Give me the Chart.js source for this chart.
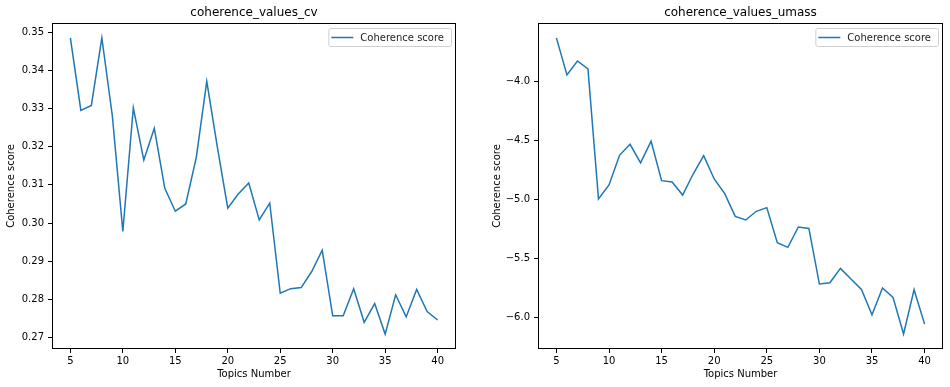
<!DOCTYPE html>
<html>
<head>
<meta charset="utf-8">
<script src="https://cdn.jsdelivr.net/npm/chart.js@4.4.1/dist/chart.umd.min.js"></script>
<style>
  html, body { margin: 0; padding: 0; background: #fff; }
  #wrap { position: relative; width: 950px; height: 387px; }
  .box { position: absolute; top: 0; width: 475px; height: 387px; }
</style>
</head>
<body>
<div id="wrap">
  <div class="box" style="left:0"><canvas id="c1" width="475" height="387"></canvas></div>
  <div class="box" style="left:475px"><canvas id="c2" width="475" height="387"></canvas></div>
</div>
<script>
const topics = [5,6,7,8,9,10,11,12,13,14,15,16,17,18,19,20,21,22,23,24,25,26,27,28,29,30,31,32,33,34,35,36,37,38,39,40];
const cvValues = [0.3485,0.3295,0.3308,0.3485,0.3281,0.2978,0.3302,0.3165,0.3248,0.3091,0.3031,0.3050,0.3172,0.3371,0.3200,0.3039,0.3076,0.3105,0.3008,0.3052,0.2816,0.2828,0.2831,0.2873,0.2929,0.2757,0.2757,0.2828,0.2740,0.2789,0.2709,0.2812,0.2754,0.2826,0.2768,0.2746];
const umassValues = [-3.629,-3.943,-3.825,-3.893,-4.996,-4.877,-4.625,-4.532,-4.690,-4.506,-4.840,-4.851,-4.962,-4.784,-4.628,-4.826,-4.950,-5.143,-5.174,-5.100,-5.069,-5.366,-5.406,-5.233,-5.245,-5.717,-5.706,-5.584,-5.675,-5.762,-5.977,-5.751,-5.830,-6.141,-5.765,-6.057];
const xTicks = [5,10,15,20,25,30,35,40];
const cvTicks = [0.27,0.28,0.29,0.30,0.31,0.32,0.33,0.34,0.35];
const cvTickLabels = ['0.27','0.28','0.29','0.30','0.31','0.32','0.33','0.34','0.35'];
const umassTicks = [-6.0,-5.5,-5.0,-4.5,-4.0];
const umassTickLabels = ['\u22126.0','\u22125.5','\u22125.0','\u22124.5','\u22124.0'];
const titles = ['coherence_values_cv','coherence_values_umass'];
const seriesName = 'Coherence score';
const xTitle = 'Topics Number';
const yTitle = 'Coherence score';

const FONT = 'DejaVu Sans';
const BLUE = '#1f77b4';

const framePlugin = {
  id: 'frame',
  afterDraw(chart) {
    const a = chart.chartArea, ctx = chart.ctx;
    ctx.save();
    ctx.strokeStyle = '#000';
    ctx.lineWidth = 1;
    ctx.strokeRect(Math.round(a.left) + 0.5, Math.round(a.top) + 0.5,
                   Math.round(a.right - a.left) - 1, Math.round(a.bottom - a.top) - 1);
    // legend inside top-right
    ctx.font = '10px "' + FONT + '"';
    const tw = ctx.measureText(seriesName).width;
    const w = 3 + 22 + 7 + tw + 7;
    const h = 18;
    const x = a.right - 5 - w, y = a.top + 5;
    ctx.fillStyle = 'rgba(255,255,255,0.8)';
    ctx.strokeStyle = '#d0d0d0';
    ctx.beginPath();
    if (ctx.roundRect) ctx.roundRect(x + 0.5, y + 0.5, w, h, 2); else ctx.rect(x + 0.5, y + 0.5, w, h);
    ctx.fill();
    ctx.stroke();
    ctx.strokeStyle = BLUE;
    ctx.lineWidth = 1.5;
    ctx.beginPath();
    ctx.moveTo(x + 3, y + h / 2 + 0.5);
    ctx.lineTo(x + 25, y + h / 2 + 0.5);
    ctx.stroke();
    ctx.fillStyle = '#222';
    ctx.textBaseline = 'middle';
    ctx.textAlign = 'left';
    ctx.fillText(seriesName, x + 32, y + h / 2 + 1);
    ctx.restore();
  }
};

function makeChart(id, title, values, yTickVals, yTickLabels, yMin, yMax, yWidth, yTitlePad, padRight) {
  const pts = topics.map((t, i) => ({ x: t, y: values[i] }));
  return new Chart(document.getElementById(id), {
    type: 'line',
    data: { datasets: [{ label: seriesName, data: pts, borderColor: BLUE, borderWidth: 1.5,
      pointRadius: 0, tension: 0, fill: false }] },
    options: {
      responsive: false,
      animation: false,
      layout: { padding: { left: 0, right: padRight, top: 0, bottom: 0 } },
      plugins: {
        legend: { display: false },
        tooltip: { enabled: false },
        title: { display: true, text: title, fullSize: false, color: '#000',
          font: { family: FONT, size: 12, weight: 'normal', lineHeight: 1.2 },
          padding: { top: 6, bottom: 2.6 } }
      },
      scales: {
        x: {
          type: 'linear', min: 3.25, max: 41.75,
          afterBuildTicks: s => { s.ticks = xTicks.map(v => ({ value: v })); },
          afterFit: s => { s.height = 38; },
          ticks: { color: '#000', font: { family: FONT, size: 10 }, padding: 2, maxRotation: 0,
            autoSkip: false, callback: v => String(v) },
          grid: { display: true, drawOnChartArea: false, drawTicks: true, tickLength: 4,
            tickColor: '#000', tickWidth: 1 },
          border: { display: false },
          title: { display: true, text: xTitle, color: '#000',
            font: { family: FONT, size: 10, lineHeight: 1.2 }, padding: { top: 0, bottom: 7 } }
        },
        y: {
          type: 'linear', min: yMin, max: yMax,
          afterBuildTicks: s => { s.ticks = yTickVals.map(v => ({ value: v })); },
          afterFit: s => { s.width = yWidth; },
          ticks: { color: '#000', font: { family: FONT, size: 10 }, padding: 4, autoSkip: false,
            callback: (v) => { const i = yTickVals.findIndex(t => Math.abs(t - v) < 1e-9); return i >= 0 ? yTickLabels[i] : ''; } },
          grid: { display: true, drawOnChartArea: false, drawTicks: true, tickLength: 4,
            tickColor: '#000', tickWidth: 1 },
          border: { display: false },
          title: { display: true, text: yTitle, color: '#000',
            font: { family: FONT, size: 10, lineHeight: 1.2 }, padding: { top: yTitlePad, bottom: 0 } }
        }
      }
    },
    plugins: [framePlugin]
  });
}

makeChart('c1', titles[0], cvValues, cvTicks, cvTickLabels, 0.2670, 0.3524, 52, 5, 19);
makeChart('c2', titles[1], umassValues, umassTicks, umassTickLabels, -6.268, -3.503, 63, 16, 7);
</script>
</body>
</html>
